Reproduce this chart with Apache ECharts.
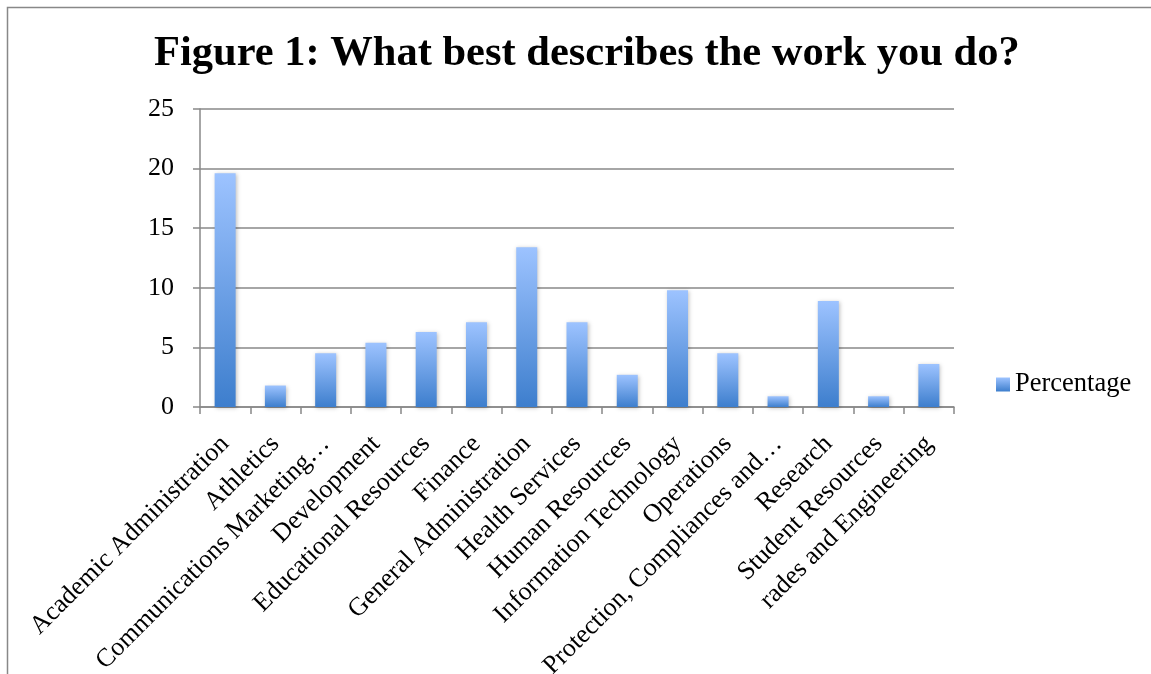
<!DOCTYPE html>
<html>
<head>
<meta charset="utf-8">
<script src="https://cdn.jsdelivr.net/npm/echarts@6/dist/echarts.min.js"></script>
<style>html,body{margin:0;padding:0;background:#fff;}#main{width:1151px;height:674px;}</style>
</head>
<body>
<div id="main"></div>
<script>
const categories = ["Academic Administration","Athletics","Communications Marketing…","Development","Educational Resources","Finance","General Administration","Health Services","Human Resources","Information Technology","Operations","Protection, Compliances and…","Research","Student Resources","rades and Engineering"];
const percentage = [19.6, 1.8, 4.5, 5.4, 6.3, 7.1, 13.4, 7.1, 2.7, 9.8, 4.5, 0.9, 8.9, 0.9, 3.6];
const yTicks = [0, 5, 10, 15, 20, 25];

const font = '"Liberation Serif","Times New Roman",serif';
const grad = new echarts.graphic.LinearGradient(0, 0, 0, 1, [
  {offset: 0, color: '#9DC3FF'},
  {offset: 1, color: '#3D7ECD'}
]);
const chart = echarts.init(document.getElementById('main'));
chart.setOption({
  animation: false,
  backgroundColor: '#fff',
  graphic: [{
    type: 'polyline',
    shape: {points: [[7.5, 680], [7.5, 7.5], [1160, 7.5]]},
    style: {stroke: '#888', lineWidth: 1.5, fill: null}
  }],
  title: {
    text: 'Figure 1: What best describes the work you do?',
    left: 149, top: 28,
    textStyle: {fontFamily: font, fontWeight: 'bold', fontSize: 42.5, color: '#000'}
  },
  legend: {
    left: 991, top: 366,
    itemWidth: 14, itemHeight: 14, itemGap: 4,
    icon: 'rect',
    textStyle: {fontFamily: font, fontSize: 26.5, color: '#000', padding: [0, 0, 0, 0]},
    data: ['Percentage']
  },
  grid: {left: 200, right: 197, top: 109, bottom: 267, containLabel: false, outerBoundsMode: 'none'},
  xAxis: {
    type: 'category',
    data: categories,
    axisLine: {lineStyle: {color: '#888', width: 1.5}},
    axisTick: {show: true, alignWithLabel: false, length: 7, lineStyle: {color: '#888', width: 1.5}},
    axisLabel: {rotate: 45, interval: 0, margin: 33, fontFamily: font, fontSize: 26, color: '#000'}
  },
  yAxis: {
    type: 'value',
    min: 0, max: 25, interval: 5,
    axisLine: {show: true, lineStyle: {color: '#888', width: 1.5}},
    axisTick: {show: true, length: 7, lineStyle: {color: '#888', width: 1.5}},
    splitLine: {lineStyle: {color: '#888', width: 1.5}},
    axisLabel: {margin: 26, fontFamily: font, fontSize: 26, color: '#000',
      formatter: v => yTicks.includes(v) ? String(v) : ''}
  },
  series: [{
    name: 'Percentage',
    type: 'bar',
    data: percentage,
    barWidth: 21,
    itemStyle: {color: grad, shadowColor: 'rgba(0,0,0,0.25)', shadowBlur: 4, shadowOffsetX: 1, shadowOffsetY: 1}
  }]
});
</script>
</body>
</html>
